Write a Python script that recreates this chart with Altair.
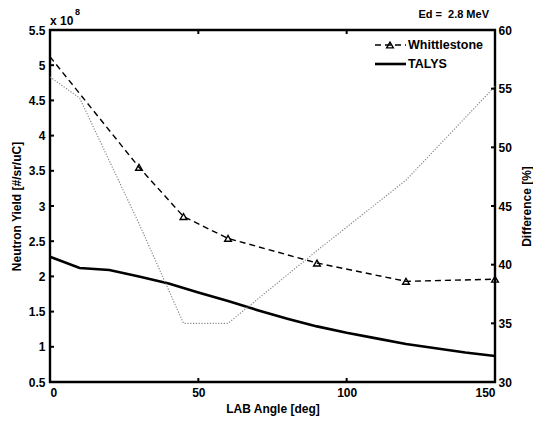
import altair as alt
import pandas as pd

# ---- data ----
talys_angle = [0, 10, 20, 30, 40, 50, 60, 70, 80, 90, 100, 110, 120, 130, 140, 150]
talys_yield = [2.28, 2.12, 2.09, 2.00, 1.90, 1.77, 1.65, 1.52, 1.40, 1.29, 1.20, 1.12, 1.04, 0.98, 0.92, 0.87]

whit_angle = [0, 30, 45, 60, 90, 120, 150]
whit_yield = [5.12, 3.55, 2.85, 2.54, 2.19, 1.93, 1.96]
whit_marker = [False, True, True, True, True, True, True]

diff_angle = [0, 10, 30, 45, 60, 90, 120, 150]
diff_value = [56.0, 54.2, 43.5, 35.0, 35.0, 41.2, 47.2, 55.2]

x_ticks = [0, 50, 100, 150]
y_left_ticks = [0.5, 1, 1.5, 2, 2.5, 3, 3.5, 4, 4.5, 5, 5.5]
y_right_ticks = [30, 35, 40, 45, 50, 55, 60]

legend_names = ["Whittlestone", "TALYS"]

FONT = "Liberation Sans"
W, H = 445, 352

talys_df = pd.DataFrame({"angle": talys_angle, "yield": talys_yield})
whit_df = pd.DataFrame({"angle": whit_angle, "yield": whit_yield, "marker": whit_marker})
diff_df = pd.DataFrame({"angle": diff_angle, "diff": diff_value})

xscale = alt.Scale(domain=[0, 150], nice=False, zero=False)
yl_scale = alt.Scale(domain=[0.5, 5.5], nice=False, zero=False)
yr_scale = alt.Scale(domain=[30, 60], nice=False, zero=False)

x_axis = alt.Axis(values=x_ticks, ticks=False, domain=False, grid=False, title="LAB Angle [deg]",
                  labelFont=FONT, labelFontSize=12, labelFontWeight="bold", labelPadding=5,
                  labelOverlap=False,
                  titleFont=FONT, titleFontSize=12, titleFontWeight="bold", titlePadding=5,
                  labelColor="black", titleColor="black")
yl_axis = alt.Axis(values=y_left_ticks, format="~g", ticks=False, domain=False, grid=False,
                   title="Neutron Yield [#/sr/uC]", labelOverlap=False,
                   labelFont=FONT, labelFontSize=12, labelFontWeight="bold", labelPadding=5,
                   titleFont=FONT, titleFontSize=12, titleFontWeight="bold", titlePadding=5,
                   labelColor="black", titleColor="black")
yr_axis = alt.Axis(values=y_right_ticks, format="d", orient="right", ticks=False, domain=False, grid=False,
                   title="Difference [%]", labelOverlap=False, titleAngle=270,
                   labelFont=FONT, labelFontSize=12, labelFontWeight="bold", labelPadding=3,
                   titleFont=FONT, titleFontSize=12, titleFontWeight="bold", titlePadding=22,
                   labelColor="black", titleColor="black")


def XA(field="angle:Q"):
    return alt.X(field, scale=xscale, axis=x_axis, title="LAB Angle [deg]")


def YL(field):
    return alt.Y(field, scale=yl_scale, axis=yl_axis, title="Neutron Yield [#/sr/uC]")


def YR(field):
    return alt.Y(field, scale=yr_scale, axis=yr_axis, title="Difference [%]")


talys_line = alt.Chart(talys_df).mark_line(color="black", strokeWidth=2.6).encode(
    x=XA(), y=YL("yield:Q"))

whit_line = alt.Chart(whit_df).mark_line(color="black", strokeWidth=1.4, strokeDash=[6, 4]).encode(
    x=XA(), y=YL("yield:Q"))

whit_pts = alt.Chart(whit_df).transform_filter("datum.marker").mark_point(
    shape="triangle-up", filled=False, color="black", size=45, strokeWidth=1.4, opacity=1).encode(
    x=XA(), y=YL("yield:Q"))

# inward tick marks (MATLAB style)
xt_df = pd.DataFrame({"t": x_ticks})
x_ticks_bottom = alt.Chart(xt_df).mark_rule(color="black", strokeWidth=2).encode(
    x=XA("t:Q"), y=alt.value(H), y2=alt.value(H - 4))
x_ticks_top = alt.Chart(xt_df).mark_rule(color="black", strokeWidth=2).encode(
    x=XA("t:Q"), y=alt.value(0), y2=alt.value(4))
yl_df = pd.DataFrame({"t": y_left_ticks})
yl_tick_marks = alt.Chart(yl_df).mark_rule(color="black", strokeWidth=2).encode(
    y=YL("t:Q"), x=alt.value(0), x2=alt.value(4))

# plot frame (box) drawn as four rules
frame_df = pd.DataFrame({"side": ["frame"]})
frame_top = alt.Chart(frame_df).mark_rule(color="black", strokeWidth=2.4).encode(
    x=alt.value(-1), x2=alt.value(W + 1), y=alt.value(0))
frame_bottom = alt.Chart(frame_df).mark_rule(color="black", strokeWidth=2.4).encode(
    x=alt.value(-1), x2=alt.value(W + 1), y=alt.value(H))
frame_left = alt.Chart(frame_df).mark_rule(color="black", strokeWidth=2.4).encode(
    x=alt.value(0), y=alt.value(-1), y2=alt.value(H + 1))
frame_right = alt.Chart(frame_df).mark_rule(color="black", strokeWidth=2.4).encode(
    x=alt.value(W), y=alt.value(-1), y2=alt.value(H + 1))

# legend
leg_df = pd.DataFrame({"name": legend_names})
leg_w_line = alt.Chart(leg_df).transform_filter("datum.name == 'Whittlestone'").mark_rule(
    color="black", strokeWidth=1.4, strokeDash=[6, 4]).encode(
    x=alt.value(325), x2=alt.value(356), y=alt.value(15))
leg_w_pt = alt.Chart(leg_df).transform_filter("datum.name == 'Whittlestone'").mark_point(
    shape="triangle-up", filled=False, color="black", size=45, strokeWidth=1.4, opacity=1).encode(
    x=alt.value(340), y=alt.value(15))
leg_t_line = alt.Chart(leg_df).transform_filter("datum.name == 'TALYS'").mark_rule(
    color="black", strokeWidth=2.6).encode(x=alt.value(325), x2=alt.value(356), y=alt.value(34))
leg_w_text = alt.Chart(leg_df).transform_filter("datum.name == 'Whittlestone'").mark_text(
    align="left", baseline="middle", font=FONT, fontSize=12.5, fontWeight="bold", color="black").encode(
    x=alt.value(358), y=alt.value(15), text="name:N")
leg_t_text = alt.Chart(leg_df).transform_filter("datum.name == 'TALYS'").mark_text(
    align="left", baseline="middle", font=FONT, fontSize=12.5, fontWeight="bold", color="black").encode(
    x=alt.value(358), y=alt.value(34), text="name:N")

# annotations
ann_df = pd.DataFrame({"label": ["Ed =\u00a0\u00a02.8 MeV"]})
ed_text = alt.Chart(ann_df).mark_text(
    align="right", baseline="middle", font=FONT, fontSize=11, fontWeight="bold", color="black").encode(
    x=alt.value(439), y=alt.value(-15), text="label:N")
exp_df = pd.DataFrame({"label": ["x 10"]})
exp_text = alt.Chart(exp_df).mark_text(
    align="left", baseline="middle", font=FONT, fontSize=12, fontWeight="bold", color="black").encode(
    x=alt.value(0), y=alt.value(-9), text="label:N")
sup_df = pd.DataFrame({"label": ["8"]})
sup_text = alt.Chart(sup_df).mark_text(
    align="left", baseline="middle", font=FONT, fontSize=9, fontWeight="bold", color="black").encode(
    x=alt.value(25), y=alt.value(-18), text="label:N")

left = alt.layer(talys_line, whit_line, whit_pts, x_ticks_bottom, x_ticks_top, yl_tick_marks,
                 leg_w_line, leg_w_pt, leg_t_line,
                 ed_text, exp_text, sup_text,
                 frame_top, frame_bottom, frame_left, frame_right).resolve_scale(y="shared")

diff_line = alt.Chart(diff_df).mark_line(color="#888888", strokeWidth=1.2, strokeDash=[1.2, 1.6]).encode(
    x=XA(), y=YR("diff:Q"))
yr_df = pd.DataFrame({"t": y_right_ticks})
yr_tick_marks = alt.Chart(yr_df).mark_rule(color="black", strokeWidth=2).encode(
    y=YR("t:Q"), x=alt.value(W), x2=alt.value(W - 4))

right = alt.layer(diff_line, yr_tick_marks)

legend_text = alt.layer(leg_w_text, leg_t_text)

chart = alt.layer(left, right, legend_text).resolve_scale(y="independent").properties(
    width=W, height=H,
    autosize=alt.AutoSizeParams(type="none"),
    padding={"left": 50, "top": 30, "right": 38, "bottom": 42},
).configure_view(stroke="black", strokeWidth=2.2).configure(background="white")

chart.save("out.html", embed_options={"renderer": "svg", "actions": False})
